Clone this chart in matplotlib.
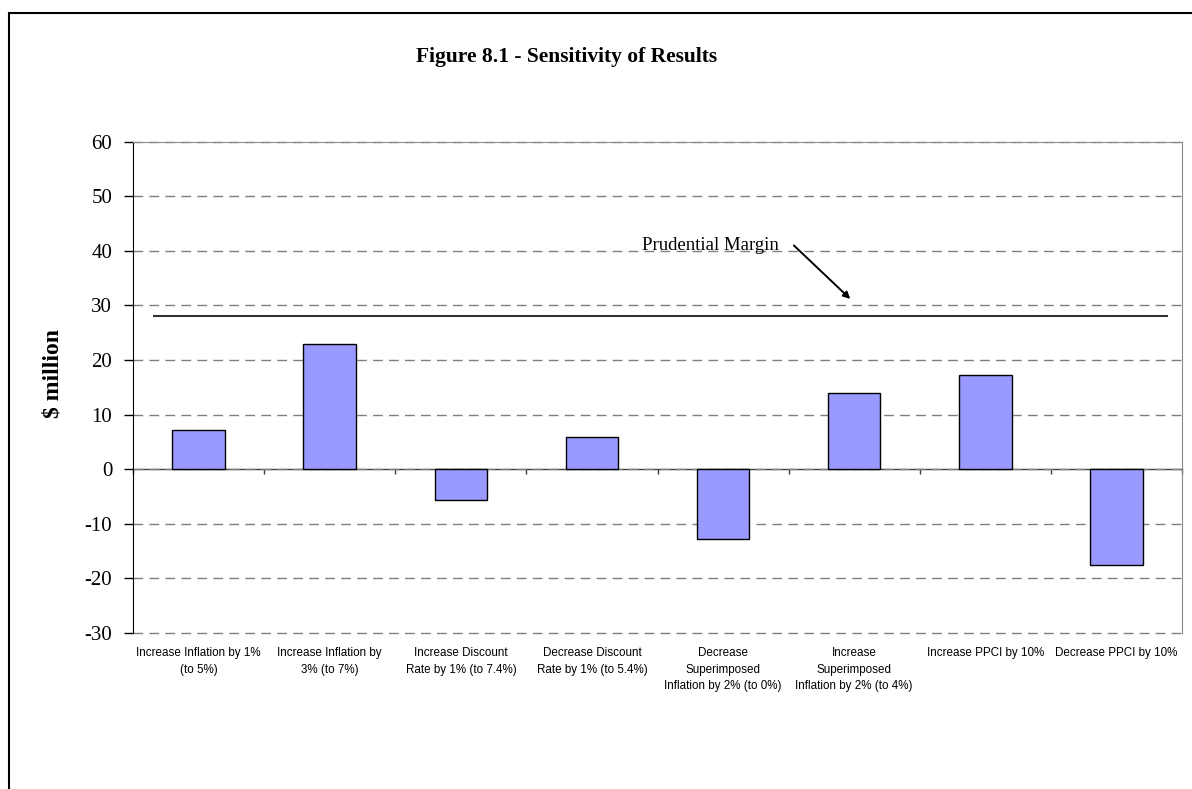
import numpy as np
import matplotlib
matplotlib.use("Agg")
from matplotlib import pyplot as plt
from matplotlib.patches import Rectangle

# sensitivity scenarios and change in result ($ million)
scenarios = [
    "Increase Inflation by 1%\n(to 5%)",
    "Increase Inflation by\n3% (to 7%)",
    "Increase Discount\nRate by 1% (to 7.4%)",
    "Decrease Discount\nRate by 1% (to 5.4%)",
    "Decrease\nSuperimposed\nInflation by 2% (to 0%)",
    "Increase\nSuperimposed\nInflation by 2% (to 4%)",
    "Increase PPCI by 10%",
    "Decrease PPCI by 10%",
]
changes = [7.2, 22.9, -5.7, 5.9, -12.8, 14.0, 17.3, -17.6]
prudential_margin = 28
y_ticks = np.arange(-30, 61, 10)

serif = "Liberation Serif"
sans = "Liberation Sans"

fig = plt.figure(figsize=(11.92, 7.89), dpi=100)
ax = fig.add_axes([0.1116, 0.1977, 0.8800, 0.6227])

x = np.arange(len(scenarios))
ax.bar(x, changes, width=0.4, color="#9999FF", edgecolor="black", linewidth=1.0, zorder=3)

# prudential margin line and its label
ax.hlines(prudential_margin, -0.35, 7.39, color="#333333", linewidth=1.5, zorder=4)
ax.annotate("", xy=(4.97, 31.2), xytext=(4.54, 41.0),
            arrowprops=dict(arrowstyle="-|>", color="black", lw=1.4,
                            mutation_scale=10, shrinkA=0, shrinkB=0))
ax.text(3.9, 40.1, "Prudential Margin", ha="center", va="baseline",
        fontsize=13.5, family=serif, zorder=5)

ax.set_xlim(-0.5, len(scenarios) - 0.5)
ax.set_ylim(-30, 60)
ax.set_yticks(y_ticks)
ax.set_yticklabels([str(v) for v in y_ticks], family=serif, fontsize=15)
ax.tick_params(axis="y", direction="out", length=6.5, width=1, pad=8.5, color="black")

ax.set_xticks(x)
ax.set_xticklabels(scenarios, family=sans, fontsize=8.4, linespacing=1.52)
ax.tick_params(axis="x", length=0, pad=10)

ax.yaxis.grid(True, color="#7f7f7f", linewidth=1.0, dashes=(7, 4.5))
for gl in ax.get_ygridlines():
    gl.set_clip_on(False)
ax.set_axisbelow(True)

ax.spines["left"].set_color("black")
ax.spines["bottom"].set_visible(False)
ax.spines["top"].set_color("#8c8c8c")
ax.spines["right"].set_color("#8c8c8c")

# category axis crossing at zero with boundary ticks
zero_axis = ax.secondary_xaxis(30 / 90)
zero_axis.set_xticks(np.arange(len(scenarios) + 1) - 0.5)
zero_axis.set_xticklabels([])
zero_axis.tick_params(direction="out", length=3.5, width=1, color="#404040")
zero_axis.spines["bottom"].set_color("#404040")
zero_axis.spines["bottom"].set_linewidth(1.0)

fig.text(0.4754, 0.9218, "Figure 8.1 - Sensitivity of Results", ha="center",
         va="baseline", family=serif, fontsize=15.5, fontweight="bold")
fig.text(0.0445, 0.526, "$ million", ha="center", va="center", rotation=90,
         family=serif, fontsize=17, fontweight="bold")

# outer frame
fig.patches.append(Rectangle((9 / 1192, -0.1), 1.2, 0.1 + 1 - 13 / 789,
                             transform=fig.transFigure, fill=False,
                             edgecolor="black", linewidth=1.5))

fig.savefig("out.png", dpi=100)
